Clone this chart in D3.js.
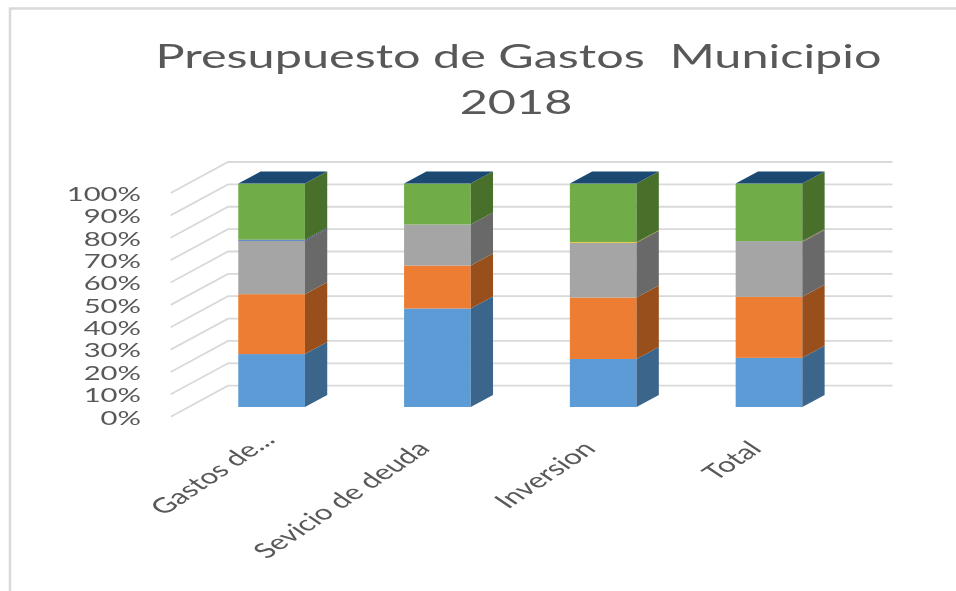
<!DOCTYPE html>
<html><head><meta charset="utf-8">
<script src="https://cdn.jsdelivr.net/npm/d3@7/dist/d3.min.js"></script>
<style>html,body{margin:0;padding:0;background:#fff}svg{display:block}text{font-family:Lato,"Open Sans",sans-serif;fill:#595959}</style>
</head><body><div id="chart"></div>
<script>
const categories = ["Gastos de...", "Sevicio de deuda", "Inversion", "Total"];
const seriesNames = ["A", "B", "C", "D", "E", "F"];
const serieA = [23.7, 44.1, 21.5, 22.0];
const serieB = [26.8, 19.2, 27.5, 27.3];
const serieC = [23.9, 18.4, 24.5, 24.6];
const serieD = [0.0, 0.0, 0.3, 0.2];
const serieE = [0.5, 0.0, 0.0, 0.2];
const serieF = [25.1, 18.3, 26.2, 25.7];
const frontColors = ["#5b9bd5", "#ed7d31", "#a5a5a5", "#ffc000", "#4472c4", "#70ad47"];
const sideColors = ["#3a658a", "#98501c", "#696969", "#997300", "#294476", "#4a6f2b"];
const topColor = "#1c4a72";
const yTicks = d3.range(0, 101, 10);
const titleLines = ["Presupuesto de Gastos\u00a0\u00a0Municipio", "2018"];

const W = 956, H = 591;
const svg = d3.select("#chart").append("svg").attr("width", W).attr("height", H);
const defs = svg.append("defs");
defs.append("filter").attr("id", "soft").attr("filterUnits", "userSpaceOnUse")
  .attr("x", 0).attr("y", 0).attr("width", W).attr("height", H)
  .append("feGaussianBlur").attr("stdDeviation", 0.6);
const root = svg.append("g").attr("filter", "url(#soft)");

// frame
root.append("path").attr("d", `M10,591V8.5H956`).attr("fill", "none").attr("stroke", "#d9d9d9").attr("stroke-width", 2.5);

const rows = categories.map((c, i) => ({cat: c, A: serieA[i], B: serieB[i], C: serieC[i], D: serieD[i], E: serieE[i], F: serieF[i]}));
const stacked = d3.stack().keys(seriesNames)(rows);

const x = d3.scaleBand().domain(categories).range([188.7, 851.9]).paddingInner(0.598).paddingOuter(0.299);
const y = d3.scaleLinear().domain([0, 100]).range([407, 183.6]);
const wall = d3.scaleLinear().domain([0, 100]).range([385.7, 162]);
const wallLeft = 228, wallRight = 892.5, depthX = 57.3, depthY = 31;
const barDX = 22.3, barDY = 12;

// gridlines
const grid = root.append("g").attr("fill", "none").attr("stroke", "#d9d9d9").attr("stroke-width", 1.8);
grid.selectAll("path").data(yTicks).join("path")
  .attr("d", d => `M${wallLeft - depthX},${wall(d) + depthY}L${wallLeft},${wall(d)}H${wallRight}`);

// y labels
root.append("g").selectAll("text").data(yTicks).join("text")
  .attr("transform", d => `translate(141,${wall(d) + depthY}) scale(1.5,1)`)
  .attr("text-anchor", "end").attr("dominant-baseline", "central")
  .attr("font-size", 19.5).text(d => d + "%");

// bars
const bars = root.append("g");
stacked.forEach((s, si) => {
  const g = bars.append("g");
  s.forEach((d, i) => {
    if (d[1] - d[0] <= 0) return;
    const x0 = x(categories[i]), x1 = x0 + x.bandwidth();
    const yb = y(d[0]), yt = y(d[1]);
    g.append("rect").attr("x", x0).attr("y", yt).attr("width", x1 - x0).attr("height", yb - yt).attr("fill", frontColors[si]);
    g.append("polygon").attr("points", [[x1, yb], [x1 + barDX, yb - barDY], [x1 + barDX, yt - barDY], [x1, yt]].join(" ")).attr("fill", sideColors[si]);
  });
});
categories.forEach(c => {
  const x0 = x(c), x1 = x0 + x.bandwidth(), yt = y(100);
  bars.append("polygon").attr("points", [[x0, yt], [x1, yt], [x1 + barDX, yt - barDY], [x0 + barDX, yt - barDY]].join(" ")).attr("fill", topColor);
});

// category labels
root.append("g").selectAll("text").data(categories).join("text")
  .attr("transform", d => `translate(${x(d) + x.bandwidth() / 2 + (d === categories[0] ? 5 : -6)},${d === categories[0] ? 441 : 450}) scale(1.5,1) rotate(-45)`)
  .attr("text-anchor", "end").attr("font-size", 21).text(d => d);

// title
root.append("g").selectAll("text").data(titleLines).join("text")
  .attr("transform", (d, i) => `translate(${i ? 516 : 518.5},${i ? 114 : 68}) scale(1.5,1)`)
  .attr("text-anchor", "middle").attr("font-size", 32.4).text(d => d);
</script></body></html>
